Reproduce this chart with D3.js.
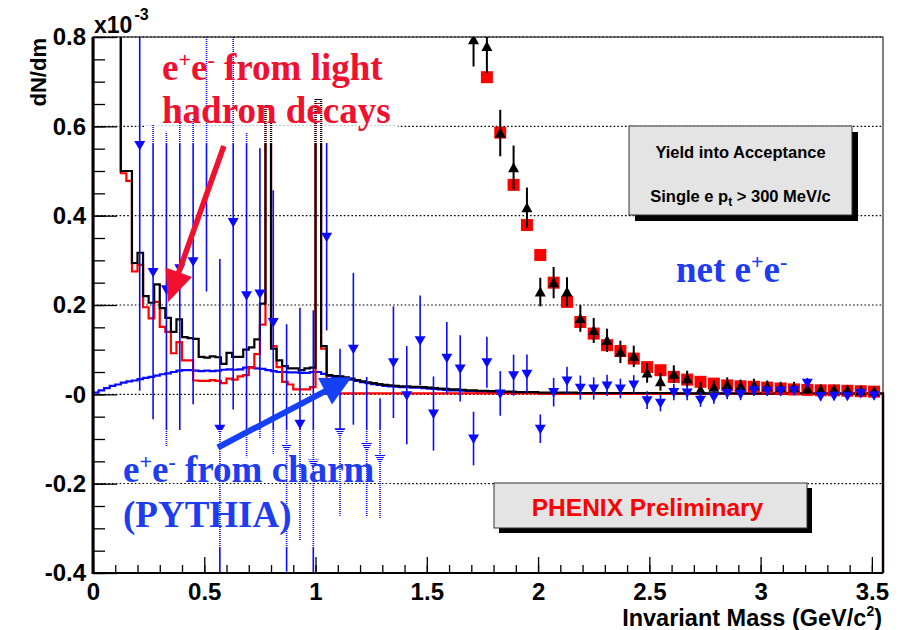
<!DOCTYPE html>
<html>
<head>
<meta charset="utf-8">
<script src="https://cdn.jsdelivr.net/npm/d3@7"></script>
<style>
  body { margin: 0; background: #fff; }
  svg { display: block; }
</style>
</head>
<body>
<svg id="chart" width="901" height="630"></svg>
<script>
// ---- histogram binning (GeV/c^2) ----
const binWidth = 0.025;

// cocktail sum: light hadrons + charm (dN/dm, x10^-3)
const cocktailTotal = [
  1.5, 1.5, 1.5, 1.5, 1.5,
  0.500, 0.500, 0.294, 0.317, 0.220,
  0.205, 0.246, 0.193, 0.171, 0.140,
  0.168, 0.128, 0.126, 0.124, 0.084,
  0.082, 0.085, 0.083, 0.068, 0.093,
  0.084, 0.084, 0.100, 0.105, 0.123,
  0.203, 0.645, 0.102, 0.076, 0.063,
  0.058, 0.058, 0.054, 0.058, 0.060,
  0.660, 0.108, 0.043, 0.041, 0.040,
  0.038, 0.035, 0.032, 0.029, 0.027,
  0.025, 0.023, 0.021, 0.020, 0.019,
  0.018, 0.018, 0.017, 0.017, 0.016,
  0.015, 0.014, 0.013, 0.012, 0.011,
  0.011, 0.010, 0.009, 0.009, 0.008,
  0.008, 0.007, 0.007, 0.006, 0.006,
  0.006, 0.005, 0.005, 0.005, 0.005,
  0.004, 0.004, 0.004, 0.004, 0.004,
  0.004, 0.004, 0.003, 0.003, 0.003,
  0.003, 0.003, 0.003, 0.003, 0.003, 0.003, 0.003, 0.003, 0.003, 0.003,
  0.003, 0.003, 0.003, 0.003, 0.003, 0.002, 0.002, 0.002, 0.002, 0.002,
  0.002, 0.002, 0.002, 0.002, 0.002, 0.002, 0.002, 0.002, 0.002, 0.002,
  0.002, 0.002, 0.002, 0.002, 0.002, 0.002, 0.002, 0.002, 0.002, 0.002,
  0.002, 0.002, 0.002, 0.002, 0.002, 0.002, 0.002, 0.002, 0.002, 0.002, 0.002, 0.002
];

// e+e- from light hadron decays
const lightHadrons = [
  1.5, 1.5, 1.5, 1.5, 1.5,
  0.495, 0.478, 0.275, 0.290, 0.195,
  0.170, 0.207, 0.151, 0.140, 0.092,
  0.117, 0.076, 0.076, 0.031, 0.030,
  0.030, 0.032, 0.030, 0.025, 0.035,
  0.033, 0.040, 0.043, 0.060, 0.090,
  0.156, 0.640, 0.108, 0.061, 0.028,
  0.022, 0.011, 0.011, 0.011, 0.016,
  0.650, 0.102, 0.002, 0.002, 0.002,
  0.002, 0.002, 0.002, 0.002, 0.002, 0.002, 0.002, 0.002, 0.002, 0.002,
  0.002, 0.002, 0.002, 0.002, 0.002, 0.002, 0.002, 0.002, 0.002, 0.002,
  0.002, 0.002, 0.002, 0.002, 0.002, 0.002, 0.002, 0.002, 0.002, 0.002,
  0.002, 0.002, 0.002, 0.002, 0.002,
  0.001, 0.001, 0.001, 0.001, 0.001, 0.001, 0.001, 0.001, 0.001, 0.001,
  0.001, 0.001, 0.001, 0.001, 0.001, 0.001, 0.001, 0.001, 0.001, 0.001,
  0.001, 0.001, 0.001, 0.001, 0.001, 0.001, 0.001, 0.001, 0.001, 0.001,
  0.001, 0.001, 0.001, 0.001, 0.001, 0.001, 0.001, 0.001, 0.001, 0.001,
  0.001, 0.001, 0.001, 0.001, 0.001, 0.001, 0.001, 0.001, 0.001, 0.001,
  0.001, 0.001, 0.001, 0.001, 0.001, 0.001, 0.001, 0.001, 0.001, 0.001,
  0.001, 0.001
];

// e+e- from charm (PYTHIA)
const charmPythia = [
  0.004, 0.009, 0.014, 0.019, 0.022,
  0.026, 0.029, 0.031, 0.034, 0.037,
  0.039, 0.042, 0.045, 0.047, 0.050,
  0.053, 0.054, 0.054, 0.053, 0.052,
  0.053, 0.052, 0.053, 0.055, 0.056,
  0.055, 0.056, 0.060, 0.061, 0.058,
  0.057, 0.054, 0.052, 0.050, 0.050,
  0.049, 0.049, 0.048, 0.048, 0.050,
  0.050, 0.046, 0.041, 0.039, 0.038,
  0.036, 0.033, 0.030, 0.027, 0.025,
  0.023, 0.021, 0.019, 0.018, 0.017,
  0.016, 0.016, 0.015, 0.015, 0.014,
  0.013, 0.012, 0.011, 0.010, 0.009,
  0.009, 0.008, 0.007, 0.007, 0.006,
  0.006, 0.005, 0.005, 0.004, 0.004,
  0.004, 0.003, 0.003, 0.003, 0.003,
  0.003, 0.003, 0.003, 0.002, 0.002, 0.002, 0.002, 0.002, 0.002, 0.002,
  0.002, 0.002, 0.002, 0.002, 0.002, 0.002, 0.002, 0.002, 0.002, 0.002,
  0.002, 0.002, 0.002, 0.002, 0.002,
  0.001, 0.001, 0.001, 0.001, 0.001, 0.001, 0.001, 0.001, 0.001, 0.001,
  0.001, 0.001, 0.001, 0.001, 0.001, 0.001, 0.001, 0.001, 0.001, 0.001,
  0.001, 0.001, 0.001, 0.001, 0.001, 0.001, 0.001, 0.001, 0.001, 0.001,
  0.001, 0.001, 0.001, 0.001, 0.001, 0.001, 0.001
];

// ---- measured points ----
const pointMass = [
  0.21, 0.27, 0.33, 0.39, 0.45, 0.51, 0.57, 0.63, 0.69, 0.75,
  0.81, 0.87, 0.93, 0.99, 1.05, 1.11, 1.17, 1.23, 1.29, 1.35,
  1.41, 1.47, 1.53, 1.59, 1.65, 1.71, 1.77, 1.83, 1.89, 1.95,
  2.01, 2.07, 2.13, 2.19, 2.25, 2.31, 2.37, 2.43, 2.49, 2.55,
  2.61, 2.67, 2.73, 2.79, 2.85, 2.91, 2.97, 3.03, 3.09, 3.15,
  3.21, 3.27, 3.33, 3.39, 3.45, 3.51
];
// net e+e- (blue)
const netPairs = [
  0.558, 0.274, 0.235, 0.282, 0.298, 0.870, -0.077, 0.386, 0.222, 0.226,
  0.162, -0.120, -0.066, -0.155, 0.353, -0.085, 0.102, -0.118, -0.144, 0.072,
  -0.002, 0.121, -0.043, 0.082, 0.058, -0.099, 0.072, 0.002, 0.043, 0.046,
  -0.077, 0.005, 0.031, 0.015, 0.013, 0.020, 0.013, 0.022, -0.013, -0.019,
  0.005, 0.004, -0.012, -0.006, 0.003, 0.001, 0.009, 0.008, 0.008, 0.009,
  0.026, -0.004, -0.003, -0.003, 0.003, -0.002
];
const netErr = [
  0.55, 0.33, 0.353, 0.362, 0.32, 0.64, 0.38, 0.42, 0.363, 0.325,
  0.295, 0.277, 0.26, 0.343, 0.21, 0.187, 0.17, 0.157, 0.135, 0.125,
  0.11, 0.10, 0.083, 0.08, 0.074, 0.06, 0.057, 0.05, 0.046, 0.043,
  0.032, 0.032, 0.031, 0.027, 0.025, 0.024, 0.022, 0.021, 0.02, 0.019,
  0.018, 0.017, 0.016, 0.015, 0.014, 0.014, 0.013, 0.012, 0.012, 0.011,
  0.011, 0.010, 0.010, 0.009, 0.009, 0.009
];

// foreground pairs (black triangles)
const fgMass = [
  1.71, 1.77, 1.83, 1.89, 1.95, 2.01, 2.07, 2.13, 2.19, 2.25,
  2.31, 2.37, 2.43, 2.49, 2.55, 2.61, 2.67, 2.73, 2.79, 2.85,
  2.91, 2.97, 3.03, 3.09, 3.15, 3.21, 3.27, 3.33, 3.39, 3.45, 3.51
];
const fgPairs = [
  0.794, 0.779, 0.585, 0.507, 0.418, 0.229, 0.250, 0.229, 0.170, 0.143,
  0.121, 0.095, 0.085, 0.048, 0.028, 0.045, 0.035, 0.010, 0.016, 0.022,
  0.018, 0.020, 0.017, 0.015, 0.015, 0.012, 0.010, 0.010, 0.009, 0.008, 0.007
];
const fgErr = [
  0.06, 0.06, 0.052, 0.05, 0.045, 0.032, 0.035, 0.033, 0.03, 0.028,
  0.026, 0.025, 0.024, 0.022, 0.02, 0.02, 0.018, 0.017, 0.016, 0.016,
  0.015, 0.015, 0.014, 0.013, 0.013, 0.012, 0.012, 0.011, 0.011, 0.010, 0.010
];

// background pairs (red squares)
const bgMass = [
  1.77, 1.83, 1.89, 1.95, 2.01, 2.07, 2.13, 2.19, 2.25, 2.31,
  2.37, 2.43, 2.49, 2.55, 2.61, 2.67, 2.73, 2.79, 2.85, 2.91,
  2.97, 3.03, 3.09, 3.15, 3.21, 3.27, 3.33, 3.39, 3.45, 3.51
];
const bgPairs = [
  0.710, 0.586, 0.469, 0.379, 0.312, 0.250, 0.207, 0.162, 0.136, 0.110,
  0.097, 0.080, 0.061, 0.054, 0.039, 0.033, 0.028, 0.024, 0.020, 0.018,
  0.017, 0.015, 0.013, 0.011, 0.010, 0.009, 0.009, 0.008, 0.007, 0.006
];

// ---- axes ----
const xTicks = [0, 0.5, 1, 1.5, 2, 2.5, 3, 3.5];
const xTickLabels = ["0", "0.5", "1", "1.5", "2", "2.5", "3", "3.5"];
const yTicks = [-0.4, -0.2, 0, 0.2, 0.4, 0.6, 0.8];
const yTickLabels = ["-0.4", "-0.2", "-0", "0.2", "0.4", "0.6", "0.8"];
const yGrid = [-0.2, 0, 0.2, 0.4, 0.6, 0.8];

const pLeft = 93, pRight = 883, pTop = 37, pBottom = 573;
const x = d3.scaleLinear().domain([0, 3.55]).range([pLeft, pRight]);
const y = d3.scaleLinear().domain([-0.4, 0.8]).range([pBottom, pTop]);

const xMinor = d3.range(0, 3.55, 0.1);
const yMinor = d3.range(-0.4, 0.801, 0.05);

const BLUE = "#0a0aff", RED = "#ff0000", TXT_RED = "#f01030", TXT_BLUE = "#1e3cf0";
const SANS = "'Liberation Sans', Arial, Helvetica, sans-serif";
const SERIF = "'Liberation Serif', 'Times New Roman', serif";

const svg = d3.select("#chart");
const defs = svg.append("defs");
defs.append("clipPath").attr("id", "plotClip")
  .append("rect").attr("x", pLeft).attr("y", pTop)
  .attr("width", pRight - pLeft + 2).attr("height", pBottom - pTop);
const veil = defs.append("pattern").attr("id", "veil")
  .attr("width", 8).attr("height", 2).attr("patternUnits", "userSpaceOnUse");
veil.append("rect").attr("width", 8).attr("height", 1).attr("fill", "#fff");

// dotted grid
svg.append("g").selectAll("line").data(yGrid).join("line")
  .attr("x1", pLeft).attr("x2", pRight)
  .attr("y1", d => y(d)).attr("y2", d => y(d))
  .attr("stroke", "#000").attr("stroke-width", 1.2)
  .attr("stroke-dasharray", "1.6,2.2");

const plot = svg.append("g").attr("clip-path", "url(#plotClip)");

// step histograms, closed down to the axis minimum at both ends
function stepPoints(values) {
  const pts = [[x(0), y(-0.4)]];
  values.forEach((v, i) => {
    pts.push([x(i * binWidth), y(v)], [x((i + 1) * binWidth), y(v)]);
  });
  pts.push([x(values.length * binWidth), y(-0.4)]);
  return pts;
}
const line = d3.line();
[[charmPythia, BLUE], [lightHadrons, RED], [cocktailTotal, "#000"]].forEach(([vals, col]) => {
  plot.append("path").attr("d", line(stepPoints(vals)))
    .attr("fill", "none").attr("stroke", col).attr("stroke-width", 2.2)
    .attr("stroke-linejoin", "miter");
});

// red squares
plot.append("g").selectAll("rect").data(bgMass).join("rect")
  .attr("x", d => x(d) - 6).attr("y", (d, i) => y(bgPairs[i]) - 6)
  .attr("width", 12).attr("height", 12).attr("fill", RED);

// black triangles with error bars
const fg = plot.append("g");
fg.selectAll("line").data(fgMass).join("line")
  .attr("x1", d => x(d)).attr("x2", d => x(d))
  .attr("y1", (d, i) => y(fgPairs[i] + fgErr[i]))
  .attr("y2", (d, i) => y(fgPairs[i] - fgErr[i]))
  .attr("stroke", "#000").attr("stroke-width", 2);
fg.selectAll("path").data(fgMass).join("path")
  .attr("d", "M-5.5,4.5L5.5,4.5L0,-5.5Z")
  .attr("transform", (d, i) => `translate(${x(d)},${y(fgPairs[i])})`)
  .attr("fill", "#000");

// net e+e- : blue down triangles with error bars
const net = plot.append("g");
net.selectAll("line").data(pointMass).join("line")
  .attr("x1", d => x(d)).attr("x2", d => x(d))
  .attr("y1", (d, i) => y(netPairs[i] + netErr[i]))
  .attr("y2", (d, i) => y(netPairs[i] - netErr[i]))
  .attr("stroke", BLUE).attr("stroke-width", 1.6);
net.selectAll("path").data(pointMass).join("path")
  .attr("d", "M-5.5,-4L5.5,-4L0,5.5Z")
  .attr("transform", (d, i) => `translate(${x(d)},${y(netPairs[i])})`)
  .attr("fill", BLUE);

// white striped veils behind the annotation texts
svg.append("rect").attr("x", 145).attr("y", 37).attr("width", 253).attr("height", 106)
  .attr("fill", "url(#veil)");
svg.append("rect").attr("x", 118).attr("y", 430).attr("width", 274).attr("height", 118)
  .attr("fill", "url(#veil)");

// shadowed label boxes
function shadowBox(x0, y0, w, h, off) {
  svg.append("rect").attr("x", x0 + off).attr("y", y0 + off).attr("width", w).attr("height", h).attr("fill", "#000");
  svg.append("rect").attr("x", x0).attr("y", y0).attr("width", w).attr("height", h)
    .attr("fill", "#e4e4e4").attr("stroke", "#333").attr("stroke-width", 1);
}
shadowBox(629, 126, 223, 89, 6);
svg.append("text").attr("x", 740.5).attr("y", 158).attr("text-anchor", "middle")
  .attr("font-family", SANS).attr("font-weight", "bold").attr("font-size", 16.5)
  .text("Yield into Acceptance");
const sg = svg.append("text").attr("x", 740.5).attr("y", 202).attr("text-anchor", "middle")
  .attr("font-family", SANS).attr("font-weight", "bold").attr("font-size", 16.5);
sg.append("tspan").text("Single e p");
sg.append("tspan").attr("dy", 4).attr("font-size", 12).text("t");
sg.append("tspan").attr("dy", -4).text(" > 300 MeV/c");

shadowBox(494, 483, 313, 45, 5);
svg.append("text").attr("x", 647.5).attr("y", 516).attr("text-anchor", "middle")
  .attr("font-family", SANS).attr("font-weight", "bold").attr("font-size", 24.5)
  .attr("fill", RED).text("PHENIX Preliminary");

// frame and axes
svg.append("rect").attr("x", pLeft).attr("y", pTop).attr("width", pRight - pLeft).attr("height", pBottom - pTop)
  .attr("fill", "none").attr("stroke", "#000").attr("stroke-width", 1);
svg.append("line").attr("x1", pLeft).attr("x2", pLeft).attr("y1", pTop).attr("y2", pBottom + 1)
  .attr("stroke", "#000").attr("stroke-width", 3);
svg.append("line").attr("x1", pLeft - 1).attr("x2", pRight).attr("y1", pBottom).attr("y2", pBottom)
  .attr("stroke", "#000").attr("stroke-width", 2);

function styleAxis(g) {
  g.select(".domain").remove();
  g.selectAll(".tick line").attr("stroke", "#000").attr("stroke-width", 1.3);
  g.selectAll("text").attr("fill", "#000").attr("font-family", SANS)
    .attr("font-weight", "bold").attr("font-size", 24);
}
svg.append("g").attr("transform", `translate(0,${pBottom})`)
  .call(d3.axisBottom(x).tickValues(xMinor).tickSize(-8).tickFormat(""))
  .call(styleAxis);
svg.append("g").attr("transform", `translate(0,${pBottom})`)
  .call(d3.axisBottom(x).tickValues(xTicks).tickSize(-16).tickPadding(10)
    .tickFormat((d, i) => xTickLabels[i]))
  .call(styleAxis);
svg.append("g").attr("transform", `translate(${pLeft},0)`)
  .call(d3.axisLeft(y).tickValues(yMinor).tickSize(-12).tickFormat(""))
  .call(styleAxis);
svg.append("g").attr("transform", `translate(${pLeft},0)`)
  .call(d3.axisLeft(y).tickValues(yTicks).tickSize(-24).tickPadding(7)
    .tickFormat((d, i) => yTickLabels[i]))
  .call(styleAxis);

// axis titles
const expo = svg.append("text").attr("x", 94).attr("y", 33)
  .attr("font-family", SANS).attr("font-weight", "bold").attr("font-size", 23);
expo.append("tspan").text("x10");
expo.append("tspan").attr("dx", 2).attr("dy", -13).attr("font-size", 16).text("-3");

svg.append("text").attr("transform", "translate(46,38) rotate(-90)")
  .attr("text-anchor", "end").attr("font-family", SANS).attr("font-weight", "bold")
  .attr("font-size", 22).text("dN/dm");

const xt = svg.append("text").attr("x", 882).attr("y", 626).attr("text-anchor", "end")
  .attr("font-family", SANS).attr("font-weight", "bold").attr("font-size", 23.5);
xt.append("tspan").text("Invariant Mass (GeV/c");
xt.append("tspan").attr("dy", -10).attr("font-size", 14).text("2");
xt.append("tspan").attr("dy", 10).text(")");

// serif annotation labels with e+e- superscripts
function pairLabel(x0, y0, lead, rest, color) {
  const t = svg.append("text").attr("x", x0).attr("y", y0)
    .attr("font-family", SERIF).attr("font-weight", "bold").attr("font-size", 37).attr("fill", color);
  t.append("tspan").text(lead + "e");
  t.append("tspan").attr("dy", -13).attr("font-size", 22).text("+");
  t.append("tspan").attr("dy", 13).text("e");
  t.append("tspan").attr("dy", -13).attr("font-size", 22).text("-");
  if (rest) t.append("tspan").attr("dy", 13).text(rest);
  return t;
}
function plainLabel(x0, y0, txt, color) {
  svg.append("text").attr("x", x0).attr("y", y0)
    .attr("font-family", SERIF).attr("font-weight", "bold").attr("font-size", 37)
    .attr("fill", color).text(txt);
}
pairLabel(162, 80, "", " from light", TXT_RED);
plainLabel(162, 123, "hadron decays", TXT_RED);
pairLabel(123, 482, "", " from charm", TXT_BLUE);
plainLabel(123, 527, "(PYTHIA)", TXT_BLUE);
pairLabel(676, 282, "net ", "", TXT_BLUE);

// arrows pointing at the curves
function arrow(m1, v1, m2, v2, color, w, headLen, headHalf) {
  const x1 = x(m1), y1 = y(v1), x2 = x(m2), y2 = y(v2);
  const dx = x2 - x1, dy = y2 - y1, L = Math.hypot(dx, dy);
  const ux = dx / L, uy = dy / L, px = -uy, py = ux;
  const bx = x2 - ux * headLen, by = y2 - uy * headLen;
  svg.append("line").attr("x1", x1).attr("y1", y1).attr("x2", bx + ux * 3).attr("y2", by + uy * 3)
    .attr("stroke", color).attr("stroke-width", w);
  svg.append("path")
    .attr("d", `M${x2},${y2}L${bx + px * headHalf},${by + py * headHalf}L${bx - px * headHalf},${by - py * headHalf}Z`)
    .attr("fill", color);
}
arrow(0.588, 0.556, 0.337, 0.206, TXT_RED, 5.5, 32, 14);
arrow(0.561, -0.119, 1.162, 0.038, "#1640f5", 6, 30, 15);
</script>
</body>
</html>
